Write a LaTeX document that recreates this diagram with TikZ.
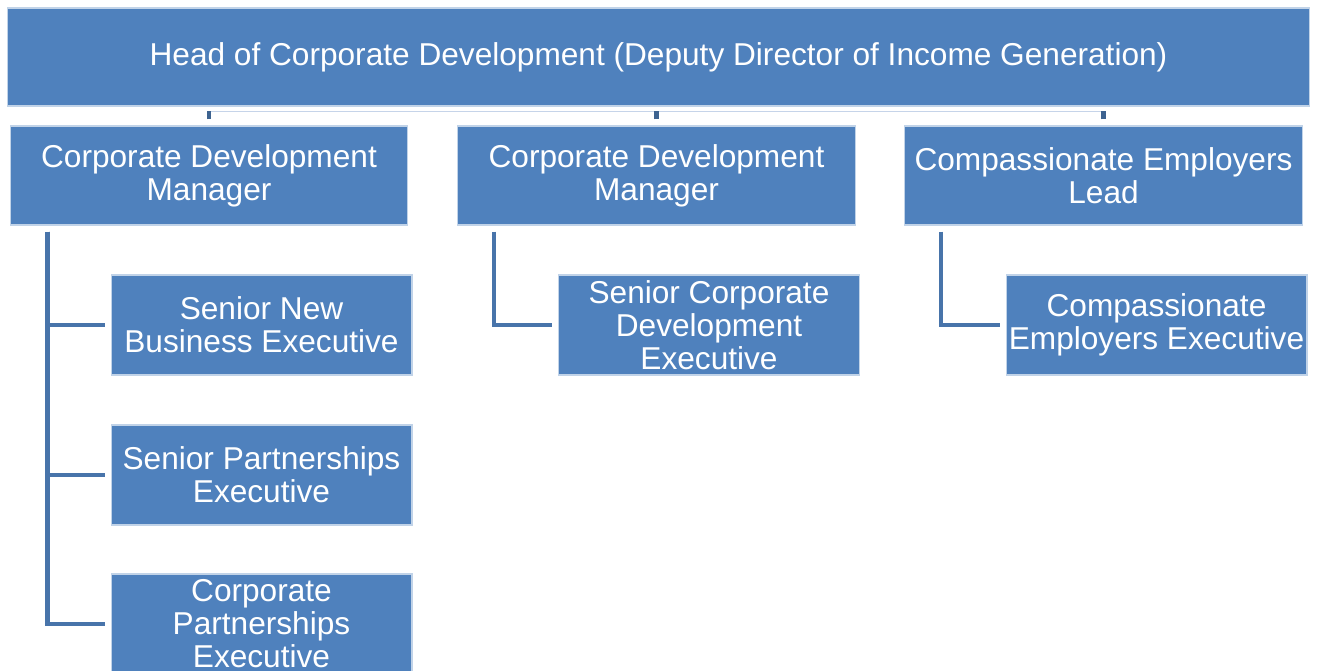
\documentclass[tikz,border=0pt]{standalone}
\usepackage{fontspec}
\setmainfont{Liberation Sans}
\usepackage{tikz}
\usetikzlibrary{positioning}
\definecolor{boxblue}{HTML}{4F81BD}
\definecolor{linkblue}{HTML}{4874AA}
\definecolor{busblue}{HTML}{C6D4E9}
\tikzset{
	post/.style   = {draw=white!65!boxblue, line width=0.6pt, fill=boxblue,
		text=white, align=center, inner sep=0pt,
		font=\fontsize{18}{18.8}\selectfont},
	head/.style   = {post, minimum width=26.06cm, minimum height=1.96cm},
	manager/.style= {post, minimum width=7.96cm, minimum height=1.98cm},
	staff/.style  = {post, minimum width=6.02cm, minimum height=2cm},
	link/.style   = {draw=linkblue, line width=2.3pt, shorten <=0.12cm, shorten >=0.12cm},
	bus/.style    = {draw=busblue, line width=0.8pt},
	tick/.style   = {draw=linkblue!85!black, line width=2.6pt}
}

\begin{document}
\begin{tikzpicture}[x=0.02cm, y=-0.02cm]
	\useasboundingbox (0,0) rectangle (1319,671);
	% top of the tree
	\node at (658.5,57) [head] (hcd) {Head of Corporate Development (Deputy Director of Income Generation)};
	% managers and leads
	\node at (209,175.5)  [manager] (m1) {Corporate Development\\Manager};
	\node at (656.5,175.5)[manager] (m2) {Corporate Development\\Manager};
	\node at (1103.5,175.5)[manager] (m3) {Compassionate Employers\\Lead};
	% executives
	\node at (261.5,325) [staff] (e1) {Senior New\\Business Executive};
	\node at (261.5,475) [staff] (e2) {Senior Partnerships\\Executive};
	\node at (261.5,624) [staff] (e3) {Corporate\\Partnerships\\Executive};
	\node at (709,325)   [staff] (e4) {Senior Corporate\\Development\\Executive};
	\node at (1156.5,325)[staff] (e5) {Compassionate\\Employers Executive};

	% thin bus under the head box
	\draw[bus] ([yshift=0.28cm]m1.north) -- ([yshift=0.28cm]m3.north);
	\foreach \m in {m1,m2,m3}
		\draw[tick] ([yshift=0.12cm]\m.north) -- ([yshift=0.28cm]\m.north);

	% elbow links down to the executives
	\draw[link] ([xshift=0.76cm]m1.south west) |- (e1.west);
	\draw[link] ([xshift=0.76cm]m1.south west) |- (e2.west);
	\draw[link] ([xshift=0.76cm]m1.south west) |- (e3.west);
	\draw[link] ([xshift=0.74cm]m2.south west) |- (e4.west);
	\draw[link] ([xshift=0.74cm]m3.south west) |- (e5.west);
\end{tikzpicture}
\end{document}
